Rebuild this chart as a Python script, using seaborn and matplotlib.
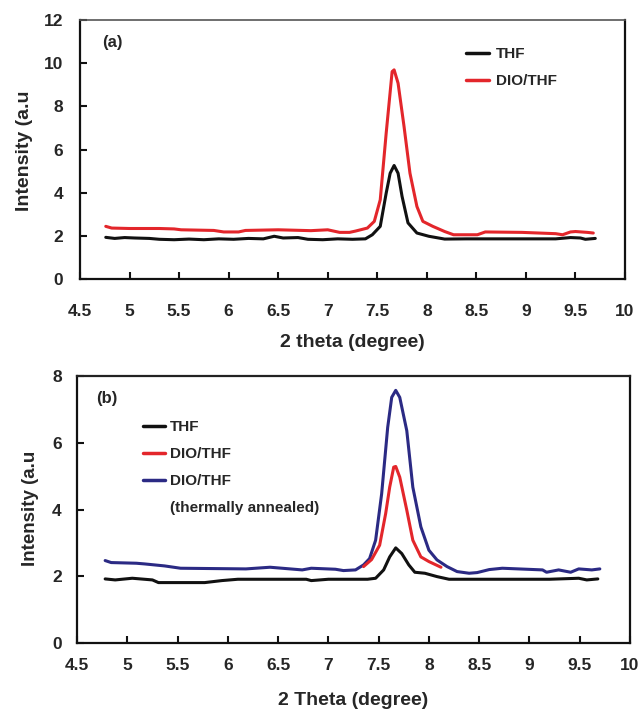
import numpy as np
import pandas as pd
import matplotlib
matplotlib.use("Agg")
import matplotlib.pyplot as plt
import seaborn as sns
from matplotlib.ticker import FuncFormatter
from matplotlib.lines import Line2D

# ---------------- data ----------------
# Panel (a)
a_thf_x = [4.76, 4.85, 4.95, 5.05, 5.2, 5.3, 5.45, 5.6, 5.75, 5.9, 6.05, 6.2, 6.35, 6.46,
           6.55, 6.7, 6.8, 6.95, 7.1, 7.25, 7.38, 7.45, 7.53, 7.59, 7.63, 7.67, 7.71, 7.75,
           7.81, 7.9, 8.02, 8.18, 8.4, 8.7, 9.0, 9.3, 9.45, 9.55, 9.6, 9.7]
a_thf_y = [1.93, 1.88, 1.92, 1.90, 1.88, 1.84, 1.82, 1.85, 1.82, 1.86, 1.84, 1.88, 1.86, 1.98,
           1.90, 1.92, 1.84, 1.82, 1.86, 1.84, 1.86, 2.05, 2.44, 3.98, 4.90, 5.26, 4.90, 3.83,
           2.60, 2.13, 1.98, 1.85, 1.86, 1.86, 1.86, 1.86, 1.92, 1.90, 1.84, 1.88]

a_dio_x = [4.76, 4.82, 5.0, 5.3, 5.45, 5.52, 5.85, 5.95, 6.1, 6.17, 6.5, 6.83, 7.0, 7.12,
           7.22, 7.28, 7.4, 7.47, 7.53, 7.59, 7.65, 7.67, 7.71, 7.77, 7.83, 7.9, 7.96, 8.06,
           8.18, 8.27, 8.51, 8.59, 8.96, 9.13, 9.3, 9.37, 9.45, 9.5, 9.62, 9.68]
a_dio_y = [2.44, 2.36, 2.34, 2.34, 2.32, 2.28, 2.25, 2.18, 2.18, 2.25, 2.28, 2.24, 2.28, 2.16,
           2.16, 2.22, 2.36, 2.67, 3.67, 6.76, 9.61, 9.69, 9.07, 7.07, 4.90, 3.36, 2.67, 2.44,
           2.20, 2.05, 2.05, 2.18, 2.16, 2.13, 2.10, 2.05, 2.18, 2.20, 2.16, 2.13]

# Panel (b)
b_thf_x = [4.78, 4.88, 5.05, 5.25, 5.31, 5.77, 5.94, 6.1, 6.78, 6.83, 7.0, 7.39, 7.47, 7.55,
           7.61, 7.67, 7.73, 7.8, 7.86, 7.96, 8.08, 8.2, 8.6, 9.2, 9.49, 9.57, 9.68]
b_thf_y = [1.92, 1.89, 1.94, 1.89, 1.81, 1.81, 1.87, 1.91, 1.91, 1.87, 1.91, 1.91, 1.94, 2.19,
           2.58, 2.85, 2.68, 2.34, 2.12, 2.09, 1.99, 1.91, 1.91, 1.91, 1.94, 1.89, 1.92]

b_dio_x = [7.35, 7.43, 7.51, 7.57, 7.61, 7.65, 7.67, 7.71, 7.78, 7.84, 7.92, 8.0, 8.12]
b_dio_y = [2.29, 2.50, 2.93, 3.88, 4.67, 5.27, 5.29, 4.97, 3.98, 3.08, 2.58, 2.44, 2.27]

b_ann_x = [4.78, 4.84, 5.09, 5.17, 5.37, 5.53, 6.18, 6.42, 6.5, 6.74, 6.83, 7.07, 7.15, 7.27,
           7.35, 7.41, 7.47, 7.53, 7.59, 7.63, 7.67, 7.71, 7.78, 7.84, 7.92, 8.0, 8.08, 8.18,
           8.28, 8.4, 8.48, 8.6, 8.73, 9.13, 9.17, 9.29, 9.41, 9.49, 9.62, 9.7]
b_ann_y = [2.47, 2.41, 2.39, 2.37, 2.31, 2.24, 2.22, 2.27, 2.25, 2.19, 2.24, 2.21, 2.17, 2.19,
           2.34, 2.53, 3.08, 4.47, 6.46, 7.36, 7.57, 7.36, 6.36, 4.67, 3.48, 2.78, 2.49, 2.29,
           2.14, 2.09, 2.11, 2.20, 2.24, 2.19, 2.12, 2.19, 2.12, 2.22, 2.19, 2.22]

x_ticks = [4.5, 5, 5.5, 6, 6.5, 7, 7.5, 8, 8.5, 9, 9.5, 10]
a_yticks = [0, 2, 4, 6, 8, 10, 12]
b_yticks = [0, 2, 4, 6, 8]

legend_a = ["THF", "DIO/THF"]
legend_b = ["THF", "DIO/THF", "DIO/THF", "(thermally annealed)"]

C_BLACK = "#111111"
C_RED = "#e3262b"
C_NAVY = "#2b2a84"

# ---------------- style ----------------
sns.set_style("white")
plt.rcParams["font.family"] = ["Liberation Sans", "DejaVu Sans"]
plt.rcParams["font.weight"] = "bold"

fig = plt.figure(figsize=(6.39, 7.11), dpi=100)
ax1 = fig.add_axes([80 / 639, 1 - 279 / 711, 545 / 639, 259 / 711])
ax2 = fig.add_axes([77 / 639, 1 - 643 / 711, 553 / 639, 267 / 711])

LW = 2.2


def df_of(x, y):
    return pd.DataFrame({"x": x, "y": y})


sns.lineplot(data=df_of(a_thf_x, a_thf_y), x="x", y="y", ax=ax1, color=C_BLACK, lw=LW,
             estimator=None, sort=False)
sns.lineplot(data=df_of(a_dio_x, a_dio_y), x="x", y="y", ax=ax1, color=C_RED, lw=LW,
             estimator=None, sort=False)

sns.lineplot(data=df_of(b_thf_x, b_thf_y), x="x", y="y", ax=ax2, color=C_BLACK, lw=LW,
             estimator=None, sort=False)
sns.lineplot(data=df_of(b_ann_x, b_ann_y), x="x", y="y", ax=ax2, color=C_NAVY, lw=LW,
             estimator=None, sort=False)
sns.lineplot(data=df_of(b_dio_x, b_dio_y), x="x", y="y", ax=ax2, color=C_RED, lw=LW,
             estimator=None, sort=False)


fmt = FuncFormatter(lambda v, p: ("%g" % v))


def style_axes(ax, yticks, ylim, xpad, ypad):
    ax.set_xlim(4.5, 10)
    ax.set_ylim(*ylim)
    ax.set_xticks(x_ticks)
    ax.set_yticks(yticks)
    ax.xaxis.set_major_formatter(fmt)
    ax.yaxis.set_major_formatter(fmt)
    ax.tick_params(axis="x", direction="in", length=5, width=1.5, pad=xpad,
                   labelsize=12.5, bottom=True, top=False, color=C_BLACK)
    ax.tick_params(axis="y", direction="in", length=5, width=1.5, pad=ypad,
                   labelsize=12.5, left=True, right=False, color=C_BLACK)
    for lab in ax.get_xticklabels() + ax.get_yticklabels():
        lab.set_fontweight("bold")
    for s in ["left", "bottom", "right"]:
        ax.spines[s].set_linewidth(1.6)
        ax.spines[s].set_color(C_BLACK)
        ax.spines[s].set_visible(True)


style_axes(ax1, a_yticks, (0, 12), 18, 12)
style_axes(ax2, b_yticks, (0, 8), 11, 11)
ax1.spines["top"].set_linewidth(1.2)
ax1.spines["top"].set_color("#555555")
ax2.spines["top"].set_linewidth(1.6)
ax2.spines["top"].set_color("#222222")

ax1.set_xlabel("2 theta (degree)", fontsize=14, fontweight="bold")
ax1.set_ylabel("Intensity (a.u", fontsize=14, fontweight="bold")
ax1.xaxis.set_label_coords(0.5, -0.212)
ax1.yaxis.set_label_coords(-0.086, 0.494)

ax2.set_xlabel("2 Theta (degree)", fontsize=14, fontweight="bold")
ax2.set_ylabel("Intensity (a.u", fontsize=13.5, fontweight="bold")
ax2.xaxis.set_label_coords(0.5, -0.185)
ax2.yaxis.set_label_coords(-0.069, 0.506)

ax1.text(0.059, 0.915, "(a)", transform=ax1.transAxes, ha="center", va="center",
         fontsize=12, fontweight="bold")
ax2.text(0.054, 0.914, "(b)", transform=ax2.transAxes, ha="center", va="center",
         fontsize=12, fontweight="bold")

# legends
h_a = [Line2D([], [], color=C_BLACK, lw=2.5), Line2D([], [], color=C_RED, lw=2.5)]
leg1 = ax1.legend(h_a, legend_a, loc="upper left", bbox_to_anchor=(0.708, 0.895),
                  frameon=False, borderpad=0, borderaxespad=0, handlelength=1.5,
                  handletextpad=0.45, labelspacing=0.85,
                  prop={"size": 11, "weight": "bold"})

h_b = [Line2D([], [], color=C_BLACK, lw=2.5), Line2D([], [], color=C_RED, lw=2.5),
       Line2D([], [], color=C_NAVY, lw=2.5), Line2D([], [], color="none", lw=0)]
leg2 = ax2.legend(h_b, legend_b, loc="upper left", bbox_to_anchor=(0.12, 0.835),
                  frameon=False, borderpad=0, borderaxespad=0, handlelength=1.4,
                  handletextpad=0.35, labelspacing=0.85,
                  prop={"size": 11, "weight": "bold"})

fig.savefig("out.png", dpi=100)
